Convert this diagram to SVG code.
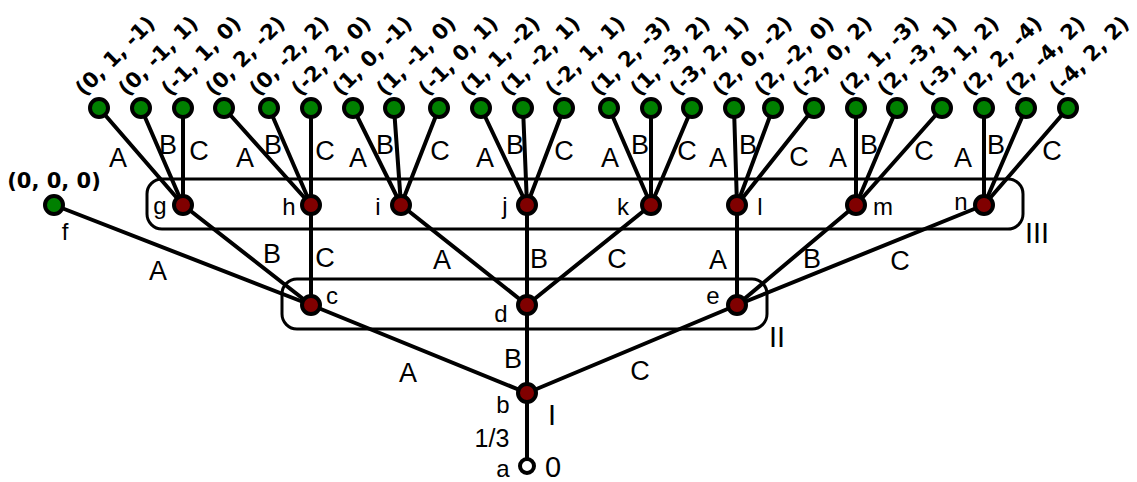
<svg xmlns="http://www.w3.org/2000/svg" width="1137" height="482" viewBox="0 0 1137 482">
  <style>
    .edge { stroke: #000; stroke-width: 4; fill: none; stroke-linecap: round; }
    .box { stroke: #000; stroke-width: 3; fill: none; }
    .red { fill: #800000; stroke: #000; stroke-width: 4; }
    .green { fill: #008000; stroke: #000; stroke-width: 4; }
    .root { fill: #fff; stroke: #000; stroke-width: 4; }
    .el { font-family: "Liberation Sans", Arial, sans-serif; font-size: 27px; text-anchor: middle; fill: #000; }
    .nl { font-family: "Liberation Sans", Arial, sans-serif; font-size: 24px; text-anchor: middle; fill: #000; }
    .num { font-family: "Liberation Sans", Arial, sans-serif; font-size: 29px; text-anchor: middle; fill: #000; }
    .frac { font-family: "Liberation Sans", Arial, sans-serif; font-size: 25px; text-anchor: middle; fill: #000; }
    .vec { font-family: "DejaVu Sans", sans-serif; font-size: 21px; font-weight: bold; fill: #000; }
  </style>

  <!-- level groupings -->
  <g id="groups">
    <rect class="box" x="147" y="179" width="876" height="50" rx="15"/>
    <rect class="box" x="282" y="279" width="485" height="50" rx="15"/>
  </g>

  <!-- connectors -->
  <g id="connectors">
    <line class="edge" x1="527" y1="466" x2="527" y2="393"/>
    <line class="edge" x1="527" y1="393" x2="311" y2="305"/>
    <line class="edge" x1="527" y1="393" x2="527" y2="305"/>
    <line class="edge" x1="527" y1="393" x2="737" y2="305"/>
    <line class="edge" x1="311" y1="305" x2="54" y2="205"/>
    <line class="edge" x1="311" y1="305" x2="183" y2="205"/>
    <line class="edge" x1="311" y1="305" x2="311" y2="205"/>
    <line class="edge" x1="527" y1="305" x2="401" y2="205"/>
    <line class="edge" x1="527" y1="305" x2="527" y2="205"/>
    <line class="edge" x1="527" y1="305" x2="651" y2="205"/>
    <line class="edge" x1="737" y1="305" x2="737" y2="205"/>
    <line class="edge" x1="737" y1="305" x2="856" y2="205"/>
    <line class="edge" x1="737" y1="305" x2="984" y2="205"/>
    <!-- leaves of g..n -->
    <line class="edge" x1="183" y1="205" x2="99" y2="108"/>
    <line class="edge" x1="183" y1="205" x2="141" y2="108"/>
    <line class="edge" x1="183" y1="205" x2="183" y2="108"/>
    <line class="edge" x1="311" y1="205" x2="224" y2="108"/>
    <line class="edge" x1="311" y1="205" x2="269" y2="108"/>
    <line class="edge" x1="311" y1="205" x2="311" y2="108"/>
    <line class="edge" x1="401" y1="205" x2="353" y2="108"/>
    <line class="edge" x1="401" y1="205" x2="394" y2="108"/>
    <line class="edge" x1="401" y1="205" x2="439" y2="108"/>
    <line class="edge" x1="527" y1="205" x2="481" y2="108"/>
    <line class="edge" x1="527" y1="205" x2="523" y2="108"/>
    <line class="edge" x1="527" y1="205" x2="564" y2="108"/>
    <line class="edge" x1="651" y1="205" x2="609" y2="108"/>
    <line class="edge" x1="651" y1="205" x2="651" y2="108"/>
    <line class="edge" x1="651" y1="205" x2="692" y2="108"/>
    <line class="edge" x1="737" y1="205" x2="734" y2="108"/>
    <line class="edge" x1="737" y1="205" x2="773" y2="108"/>
    <line class="edge" x1="737" y1="205" x2="814" y2="108"/>
    <line class="edge" x1="856" y1="205" x2="856" y2="108"/>
    <line class="edge" x1="856" y1="205" x2="897" y2="108"/>
    <line class="edge" x1="856" y1="205" x2="942" y2="108"/>
    <line class="edge" x1="984" y1="205" x2="984" y2="108"/>
    <line class="edge" x1="984" y1="205" x2="1026" y2="108"/>
    <line class="edge" x1="984" y1="205" x2="1068" y2="108"/>

    <!-- edge labels -->
    <text class="el" x="408" y="382">A</text>
    <text class="el" x="513" y="368">B</text>
    <text class="el" x="640" y="380">C</text>

    <text class="el" x="158" y="280">A</text>
    <text class="el" x="272" y="263">B</text>
    <text class="el" x="325" y="267">C</text>
    <text class="el" x="442" y="269">A</text>
    <text class="el" x="539" y="268">B</text>
    <text class="el" x="617" y="268">C</text>
    <text class="el" x="718" y="269">A</text>
    <text class="el" x="812" y="268">B</text>
    <text class="el" x="900" y="270">C</text>

    <text class="el" x="118" y="167">A</text>
    <text class="el" x="168" y="154">B</text>
    <text class="el" x="199" y="160">C</text>
    <text class="el" x="245" y="167">A</text>
    <text class="el" x="273" y="154">B</text>
    <text class="el" x="325" y="160">C</text>
    <text class="el" x="358" y="167">A</text>
    <text class="el" x="385" y="154">B</text>
    <text class="el" x="440" y="160">C</text>
    <text class="el" x="485" y="167">A</text>
    <text class="el" x="515" y="154">B</text>
    <text class="el" x="564" y="160">C</text>
    <text class="el" x="610" y="167">A</text>
    <text class="el" x="640" y="154">B</text>
    <text class="el" x="687" y="160">C</text>
    <text class="el" x="718" y="167">A</text>
    <text class="el" x="748" y="154">B</text>
    <text class="el" x="799" y="166">C</text>
    <text class="el" x="838" y="167">A</text>
    <text class="el" x="869" y="154">B</text>
    <text class="el" x="924" y="160">C</text>
    <text class="el" x="963" y="167">A</text>
    <text class="el" x="996" y="154">B</text>
    <text class="el" x="1052" y="160">C</text>
  </g>

  <!-- level numbers -->
  <g id="levels">
    <text class="num" x="553" y="477">0</text>
    <text class="num" x="552" y="425">I</text>
    <text class="num" x="777" y="347">II</text>
    <text class="num" x="1037" y="243">III</text>
    <text class="frac" x="492" y="447">1/3</text>
  </g>

  <!-- nodes -->
  <g id="node-a"><circle class="root" cx="527" cy="466" r="7"/><text class="nl" x="503" y="477">a</text></g>
  <g id="node-b"><circle class="red" cx="527" cy="393" r="9"/><text class="nl" x="503" y="413">b</text></g>
  <g id="node-c"><circle class="red" cx="311" cy="305" r="9"/><text class="nl" x="332" y="304">c</text></g>
  <g id="node-d"><circle class="red" cx="527" cy="305" r="9"/><text class="nl" x="501" y="322">d</text></g>
  <g id="node-e"><circle class="red" cx="737" cy="305" r="9"/><text class="nl" x="713" y="304">e</text></g>
  <g id="node-f"><circle class="green" cx="54" cy="205" r="9"/><text class="nl" x="65" y="240">f</text><text class="vec" x="54" y="188" text-anchor="middle">(0, 0, 0)</text></g>
  <g id="node-g"><circle class="red" cx="183" cy="205" r="9"/><text class="nl" x="160" y="214">g</text></g>
  <g id="node-h"><circle class="red" cx="311" cy="205" r="9"/><text class="nl" x="289" y="215">h</text></g>
  <g id="node-i"><circle class="red" cx="401" cy="205" r="9"/><text class="nl" x="378" y="215">i</text></g>
  <g id="node-j"><circle class="red" cx="527" cy="205" r="9"/><text class="nl" x="505" y="214">j</text></g>
  <g id="node-k"><circle class="red" cx="651" cy="205" r="9"/><text class="nl" x="623" y="215">k</text></g>
  <g id="node-l"><circle class="red" cx="737" cy="205" r="9"/><text class="nl" x="760" y="215">l</text></g>
  <g id="node-m"><circle class="red" cx="856" cy="205" r="9"/><text class="nl" x="883" y="215">m</text></g>
  <g id="node-n"><circle class="red" cx="984" cy="205" r="9"/><text class="nl" x="961" y="210">n</text></g>

  <!-- leaf nodes with their coordinate vectors -->
  <g id="leaf-1"><circle class="green" cx="99" cy="108" r="9"/><text class="vec" transform="translate(84,97) rotate(-45)">(0, 1, -1)</text></g>
  <g id="leaf-2"><circle class="green" cx="141" cy="108" r="9"/><text class="vec" transform="translate(127,97) rotate(-45)">(0, -1, 1)</text></g>
  <g id="leaf-3"><circle class="green" cx="183" cy="108" r="9"/><text class="vec" transform="translate(170,97) rotate(-45)">(-1, 1, 0)</text></g>
  <g id="leaf-4"><circle class="green" cx="224" cy="108" r="9"/><text class="vec" transform="translate(214,97) rotate(-45)">(0, 2, -2)</text></g>
  <g id="leaf-5"><circle class="green" cx="269" cy="108" r="9"/><text class="vec" transform="translate(258,97) rotate(-45)">(0, -2, 2)</text></g>
  <g id="leaf-6"><circle class="green" cx="311" cy="108" r="9"/><text class="vec" transform="translate(300,97) rotate(-45)">(-2, 2, 0)</text></g>
  <g id="leaf-7"><circle class="green" cx="353" cy="108" r="9"/><text class="vec" transform="translate(341,97) rotate(-45)">(1, 0, -1)</text></g>
  <g id="leaf-8"><circle class="green" cx="394" cy="108" r="9"/><text class="vec" transform="translate(385,97) rotate(-45)">(1, -1, 0)</text></g>
  <g id="leaf-9"><circle class="green" cx="439" cy="108" r="9"/><text class="vec" transform="translate(427,97) rotate(-45)">(-1, 0, 1)</text></g>
  <g id="leaf-10"><circle class="green" cx="481" cy="108" r="9"/><text class="vec" transform="translate(469,97) rotate(-45)">(1, 1, -2)</text></g>
  <g id="leaf-11"><circle class="green" cx="523" cy="108" r="9"/><text class="vec" transform="translate(509,97) rotate(-45)">(1, -2, 1)</text></g>
  <g id="leaf-12"><circle class="green" cx="564" cy="108" r="9"/><text class="vec" transform="translate(554,97) rotate(-45)">(-2, 1, 1)</text></g>
  <g id="leaf-13"><circle class="green" cx="609" cy="108" r="9"/><text class="vec" transform="translate(599,97) rotate(-45)">(1, 2, -3)</text></g>
  <g id="leaf-14"><circle class="green" cx="651" cy="108" r="9"/><text class="vec" transform="translate(639,97) rotate(-45)">(1, -3, 2)</text></g>
  <g id="leaf-15"><circle class="green" cx="692" cy="108" r="9"/><text class="vec" transform="translate(678,97) rotate(-45)">(-3, 2, 1)</text></g>
  <g id="leaf-16"><circle class="green" cx="734" cy="108" r="9"/><text class="vec" transform="translate(721,97) rotate(-45)">(2, 0, -2)</text></g>
  <g id="leaf-17"><circle class="green" cx="773" cy="108" r="9"/><text class="vec" transform="translate(763,97) rotate(-45)">(2, -2, 0)</text></g>
  <g id="leaf-18"><circle class="green" cx="814" cy="108" r="9"/><text class="vec" transform="translate(801,97) rotate(-45)">(-2, 0, 2)</text></g>
  <g id="leaf-19"><circle class="green" cx="856" cy="108" r="9"/><text class="vec" transform="translate(848,97) rotate(-45)">(2, 1, -3)</text></g>
  <g id="leaf-20"><circle class="green" cx="897" cy="108" r="9"/><text class="vec" transform="translate(886,97) rotate(-45)">(2, -3, 1)</text></g>
  <g id="leaf-21"><circle class="green" cx="942" cy="108" r="9"/><text class="vec" transform="translate(928,97) rotate(-45)">(-3, 1, 2)</text></g>
  <g id="leaf-22"><circle class="green" cx="984" cy="108" r="9"/><text class="vec" transform="translate(971,97) rotate(-45)">(2, 2, -4)</text></g>
  <g id="leaf-23"><circle class="green" cx="1026" cy="108" r="9"/><text class="vec" transform="translate(1014,97) rotate(-45)">(2, -4, 2)</text></g>
  <g id="leaf-24"><circle class="green" cx="1068" cy="108" r="9"/><text class="vec" transform="translate(1058,97) rotate(-45)">(-4, 2, 2)</text></g>
</svg>
